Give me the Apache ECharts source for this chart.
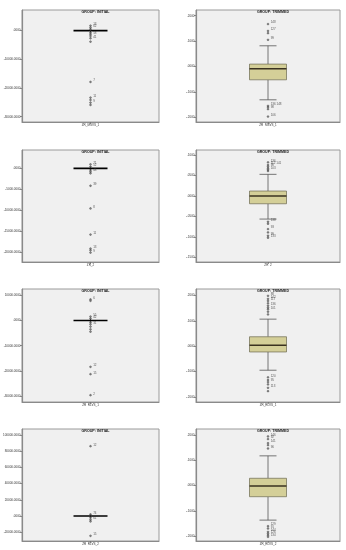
<!DOCTYPE html>
<html><head><meta charset="utf-8">
<script src="https://cdn.jsdelivr.net/npm/echarts@6/dist/echarts.min.js"></script>
<style>html,body{margin:0;padding:0;background:#fff}#c{width:346px;height:550px}</style>
</head><body><div id="c"></div>
<script>
// ---- data ----
const titles = ["GROUP: INITIAL", "GROUP: TRIMMED"];
const xCats = ["ZR_MSVS_1", "ZR_2", "ZR_RLVS_1", "ZR_RLVS_2"];

const initTicks1 = [0, -10000, -20000, -30000];
const initLabels1 = [".0000", "-10000.0000", "-20000.0000", "-30000.0000"];
const initRange1 = [-31850, 7200];
const initOut1 = [1740, 1050, 400, -700, -1250, -1850, -2650, -3830, -17870, -23340, -24150, -25080, -25890];
const initOutLbl1 = ["13", "62", "", "", "58", "", "41", "", "7", "11", "", "9", ""];

const trimTicks1 = [0.2, 0.1, 0, -0.1, -0.2];
const trimLabels1 = [".2000", ".1000", ".0000", "-.1000", "-.2000"];
const trimRange1 = [-0.2185, 0.2224];
const trimBox1 = [-0.1311, -0.0524, -0.0091, 0.0094, 0.0815];
const trimOut1 = [0.167, 0.14, 0.131, 0.105, -0.155, -0.16, -0.168, -0.197];
const trimOutLbl1 = ["148", "127", "", "99", "136 148", "", "98", "106"];

const initTicks2 = [0, -5000, -10000, -15000, -20000];
const initLabels2 = [".0000", "-5000.0000", "-10000.0000", "-15000.0000", "-20000.0000"];
const initRange2 = [-22240, 4360];
const initOut2 = [950, 400, -400, -800, -1190, -4130, -9520, -15720, -19050, -19450, -20000];
const initOutLbl2 = ["71", "52", "", "48", "", "39", "8", "11", "13", "", "9"];

const trimTicks2 = [0.1, 0.05, 0, -0.05, -0.1, -0.15];
const trimLabels2 = [".1000", ".0500", ".0000", "-.0500", "-.1000", "-.1500"];
const trimRange2 = [-0.1607, 0.1122];
const trimBox2 = [-0.0561, -0.0188, 0, 0.0122, 0.0529];
const trimOut2 = [0.0821, 0.0756, 0.0716, 0.0675, 0.0642, 0.061, -0.0626, -0.0675, -0.0805, -0.0886, -0.0967, -0.1016];
const trimOutLbl2 = ["136", "112 141", "98", "", "103", "", "138", "", "93", "", "99", "133"];

const initTicks3 = [10000, 0, -10000, -20000, -30000];
const initLabels3 = ["10000.0000", ".0000", "-10000.0000", "-20000.0000", "-30000.0000"];
const initRange3 = [-32400, 12560];
const initOut3 = [8400, 7870, 1600, 800, -670, -1470, -2400, -3470, -4400, -18400, -21330, -29700];
const initOutLbl3 = ["6", "", "55", "42", "", "31", "", "", "", "12", "15", "2"];

const trimTicks3 = [0.2, 0.1, 0, -0.1, -0.2];
const trimLabels3 = [".2000", ".1000", ".0000", "-.1000", "-.2000"];
const trimRange3 = [-0.22, 0.2256];
const trimBox3 = [-0.0947, -0.0227, 0.004, 0.0373, 0.1067];
const trimOut3 = [0.1987, 0.1867, 0.1787, 0.1693, 0.16, 0.152, 0.1453, 0.136, 0.1253, -0.1227, -0.1333, -0.1413, -0.1507, -0.164, -0.1773];
const trimOutLbl3 = ["88", "142", "117", "", "136", "", "101", "", "", "120", "", "95", "", "113", ""];

const initTicks4 = [100000, 80000, 60000, 40000, 20000, 0, -20000];
const initLabels4 = ["100000.0000", "80000.0000", "60000.0000", "40000.0000", "20000.0000", ".0000", "-20000.0000"];
const initRange4 = [-30760, 107420];
const initOut4 = [86170, 2060, -2060, -4540, -6600, -24330];
const initOutLbl4 = ["12", "74", "", "61", "", "15"];

const trimTicks4 = [0.2, 0.1, 0, -0.1, -0.2];
const trimLabels4 = [".2000", ".1000", ".0000", "-.1000", "-.2000"];
const trimRange4 = [-0.2187, 0.2238];
const trimBox4 = [-0.1362, -0.0437, -0.0013, 0.0291, 0.1177];
const trimOut4 = [0.1945, 0.1839, 0.168, 0.16, 0.1468, -0.16, -0.1693, -0.1826, -0.1892, -0.1958, -0.2024];
const trimOutLbl4 = ["146", "92", "141", "", "96", "129", "91", "144", "126", "", "134"];

// ---- layout ----
const rowTops = [10, 150, 289, 429];
const rowHeights = [112, 112, 113, 112];
const colLeft = [22, 196];
const colWidth = [137, 144];

const panels = [
  {col:0,row:0,ticks:initTicks1,labels:initLabels1,range:initRange1,box:[0,0,0,0,0],out:initOut1,outLbl:initOutLbl1,init:true},
  {col:1,row:0,ticks:trimTicks1,labels:trimLabels1,range:trimRange1,box:trimBox1,out:trimOut1,outLbl:trimOutLbl1,init:false},
  {col:0,row:1,ticks:initTicks2,labels:initLabels2,range:initRange2,box:[0,0,0,0,0],out:initOut2,outLbl:initOutLbl2,init:true},
  {col:1,row:1,ticks:trimTicks2,labels:trimLabels2,range:trimRange2,box:trimBox2,out:trimOut2,outLbl:trimOutLbl2,init:false},
  {col:0,row:2,ticks:initTicks3,labels:initLabels3,range:initRange3,box:[0,0,0,0,0],out:initOut3,outLbl:initOutLbl3,init:true},
  {col:1,row:2,ticks:trimTicks3,labels:trimLabels3,range:trimRange3,box:trimBox3,out:trimOut3,outLbl:trimOutLbl3,init:false},
  {col:0,row:3,ticks:initTicks4,labels:initLabels4,range:initRange4,box:[0,0,0,0,0],out:initOut4,outLbl:initOutLbl4,init:true},
  {col:1,row:3,ticks:trimTicks4,labels:trimLabels4,range:trimRange4,box:trimBox4,out:trimOut4,outLbl:trimOutLbl4,init:false}
];

const FONT = "Liberation Sans";
const grid = [], xAxis = [], yAxis = [], series = [], title = [];

panels.forEach((p, i) => {
  const top = rowTops[p.row], h = rowHeights[p.row];
  const left = colLeft[p.col], w = colWidth[p.col];
  grid.push({left: left, top: top, width: w, height: h, show: true,
    backgroundColor: '#f0f0f0', borderColor: '#9a9a9a', borderWidth: 1});
  title.push({text: titles[p.col], left: left + w / 2, top: top - 5, textAlign: 'center',
    textStyle: {fontSize: 3.6, fontWeight: 'bold', color: '#222', fontFamily: FONT}});
  xAxis.push({type: 'category', gridIndex: i, data: [xCats[p.row]],
    axisLine: {show: true, onZero: false, lineStyle: {color: '#8a8a8a', width: 1}},
    axisTick: {show: true, length: 2, alignWithLabel: true, lineStyle: {color: '#666', width: 0.6}},
    axisLabel: {fontSize: 3, color: '#333', margin: 2, fontFamily: FONT},
    splitLine: {show: false}});
  const ticks = p.ticks, labels = p.labels;
  yAxis.push({type: 'value', gridIndex: i, min: p.range[0], max: p.range[1],
    axisLine: {show: true, onZero: false, lineStyle: {color: '#8a8a8a', width: 1.2}},
    axisTick: {show: true, length: 2, customValues: ticks, lineStyle: {color: '#555', width: 0.6}},
    axisLabel: {fontSize: 3, color: '#333', margin: 1.5, fontFamily: FONT, customValues: ticks,
      formatter: function (v) {
        for (let k = 0; k < ticks.length; k++) {
          if (Math.abs(ticks[k] - v) < 1e-9 * Math.max(1, Math.abs(v)) + 1e-9) return labels[k];
        }
        return '';
      }},
    splitLine: {show: false}});
  const isInit = p.init;
  series.push({type: 'custom', xAxisIndex: i, yAxisIndex: i,
    data: [[0].concat(p.box)],
    renderItem: function (params, api) {
      const x = api.value(0);
      const lo = api.coord([x, api.value(1)]);
      const q1 = api.coord([x, api.value(2)]);
      const med = api.coord([x, api.value(3)]);
      const q3 = api.coord([x, api.value(4)]);
      const hi = api.coord([x, api.value(5)]);
      const cx = lo[0];
      if (isInit) {
        const bw = 34;
        return {type: 'group', children: [
          {type: 'line', shape: {x1: cx - bw / 2, y1: med[1], x2: cx + bw / 2, y2: med[1]},
            style: {stroke: '#000', lineWidth: 1.6}},
          {type: 'line', shape: {x1: cx, y1: med[1] - 2, x2: cx, y2: med[1] + 2},
            style: {stroke: '#000', lineWidth: 0.8}}
        ]};
      }
      const bw = 37, cw = 17;
      const lc = '#555';
      return {type: 'group', children: [
        {type: 'line', shape: {x1: cx, y1: hi[1], x2: cx, y2: q3[1]}, style: {stroke: lc, lineWidth: 0.8}},
        {type: 'line', shape: {x1: cx, y1: q1[1], x2: cx, y2: lo[1]}, style: {stroke: lc, lineWidth: 0.8}},
        {type: 'line', shape: {x1: cx - cw / 2, y1: hi[1], x2: cx + cw / 2, y2: hi[1]}, style: {stroke: lc, lineWidth: 0.8}},
        {type: 'line', shape: {x1: cx - cw / 2, y1: lo[1], x2: cx + cw / 2, y2: lo[1]}, style: {stroke: lc, lineWidth: 0.8}},
        {type: 'rect', shape: {x: cx - bw / 2, y: q3[1], width: bw, height: q1[1] - q3[1]},
          style: {fill: '#d4cf98', stroke: '#6b6850', lineWidth: 0.7}},
        {type: 'line', shape: {x1: cx - bw / 2, y1: med[1], x2: cx + bw / 2, y2: med[1]},
          style: {stroke: '#3a3220', lineWidth: 1.4}}
      ]};
    }, z: 2});
  series.push({type: 'scatter', xAxisIndex: i, yAxisIndex: i, z: 3,
    symbol: 'circle', symbolSize: 1.8,
    itemStyle: {color: '#777', borderColor: '#333', borderWidth: 0.5},
    label: {show: true, position: 'right', distance: 1.5, offset: [0, -1.5], fontSize: 3, color: '#333',
      fontFamily: FONT, formatter: '{b}'},
    data: p.out.map((v, k) => ({name: p.outLbl[k], value: [0, v]}))});
});

const chart = echarts.init(document.getElementById('c'), null, {renderer: 'canvas'});
chart.setOption({animation: false, backgroundColor: '#fff', title, grid, xAxis, yAxis, series});
</script></body></html>
